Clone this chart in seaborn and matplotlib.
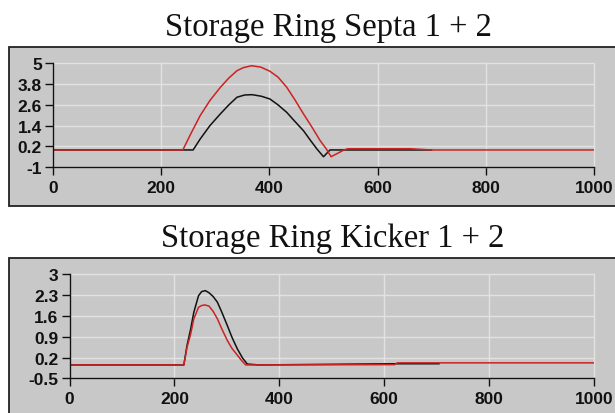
import numpy as np
import pandas as pd
import matplotlib
matplotlib.use("Agg")
import matplotlib.pyplot as plt
from matplotlib.patches import Rectangle
import seaborn as sns

sns.set_theme(style="white")
plt.rcParams.update({
    "font.family": ["Liberation Sans", "DejaVu Sans"],
    "axes.axisbelow": True,
})

# Storage Ring Septa 1 + 2
septa_red_x = [0, 240, 255, 272, 290, 309, 325, 340, 352, 367, 384, 401, 416, 432,
               447, 463, 479, 494, 505, 514, 538, 545, 660, 700, 1000]
septa_red_y = [0, 0, 0.95, 1.98, 2.85, 3.6, 4.15, 4.57, 4.75, 4.86, 4.78, 4.54, 4.2, 3.62,
               2.9, 2.08, 1.3, 0.53, 0.07, -0.39, 0.0, 0.07, 0.07, 0.0, 0.0]
septa_black_x = [0, 259, 272, 290, 309, 325, 340, 354, 368, 385, 401, 416, 432, 447,
                 463, 476, 488, 500, 512, 520, 660, 700]
septa_black_y = [0, 0, 0.63, 1.4, 2.07, 2.6, 3.04, 3.17, 3.19, 3.1, 2.94, 2.6, 2.17, 1.65,
                 1.11, 0.55, 0.05, -0.39, 0.0, 0.0, 0.0, 0.0]
septa_yticks = [-1, 0.2, 1.4, 2.6, 3.8, 5]
septa_yticklabels = ["-1", "0.2", "1.4", "2.6", "3.8", "5"]

# Storage Ring Kicker 1 + 2
kicker_red_x = [0, 218, 224, 231, 237, 246, 252, 258, 266, 274, 282, 291, 301, 310,
                320, 328, 336, 620, 625, 1000]
kicker_red_y = [-0.05, -0.05, 0.54, 0.99, 1.5, 1.89, 1.95, 1.97, 1.93, 1.75, 1.5, 1.14, 0.77, 0.5,
                0.28, 0.1, -0.05, -0.04, 0.02, 0.02]
kicker_black_x = [0, 218, 224, 231, 237, 246, 252, 259, 266, 274, 282, 291, 301, 310,
                  320, 330, 339, 361, 620, 705]
kicker_black_y = [-0.05, -0.05, 0.6, 1.16, 1.72, 2.28, 2.42, 2.45, 2.38, 2.25, 2.06, 1.7, 1.27, 0.87,
                  0.49, 0.18, -0.02, -0.05, -0.01, -0.01]
kicker_yticks = [-0.5, 0.2, 0.9, 1.6, 2.3, 3]
kicker_yticklabels = ["-0.5", "0.2", "0.9", "1.6", "2.3", "3"]

xticks = [0, 200, 400, 600, 800, 1000]

BG = "#c8c8c8"
RED = "#cc2222"
BLACK = "#111111"

fig = plt.figure(figsize=(6.15, 4.14), dpi=100)
fig.patch.set_facecolor("white")

# grey panels behind each plot
fig.patches.append(Rectangle((9 / 615, 0.501), 1.2, 0.383, transform=fig.transFigure,
                             facecolor=BG, edgecolor="#222222", linewidth=1.3, zorder=-10))
fig.patches.append(Rectangle((9 / 615, -0.2), 1.2, 0.5744, transform=fig.transFigure,
                             facecolor=BG, edgecolor="#222222", linewidth=1.3, zorder=-10))

ax1 = fig.add_axes([53 / 615, 0.5935, 541 / 615, 0.2512])
ax2 = fig.add_axes([69.5 / 615, 0.0838, 524.5 / 615, 0.2512])

panels = [
    (ax1, septa_black_x, septa_black_y, septa_red_x, septa_red_y, (-1, 5), septa_yticks, septa_yticklabels),
    (ax2, kicker_black_x, kicker_black_y, kicker_red_x, kicker_red_y, (-0.5, 3), kicker_yticks, kicker_yticklabels),
]

for ax, bx, by, rx, ry, ylim, yt, ytl in panels:
    ax.set_facecolor(BG)
    ax.set_zorder(1)
    sns.lineplot(x=bx, y=by, ax=ax, color=BLACK, linewidth=1.1, estimator=None, sort=False)
    sns.lineplot(x=rx, y=ry, ax=ax, color=RED, linewidth=1.1, estimator=None, sort=False)
    ax.set_xlim(0, 1000)
    ax.set_ylim(*ylim)
    ax.set_xticks(xticks)
    ax.set_xticklabels([str(t) for t in xticks])
    ax.set_yticks(yt)
    ax.set_yticklabels(ytl)
    ax.grid(True, color="#e2e2e2", linewidth=1.0)
    for gl in ax.get_xgridlines() + ax.get_ygridlines():
        gl.set_clip_on(False)
    for side in ["top", "right"]:
        ax.spines[side].set_visible(False)
    for side in ["left", "bottom"]:
        ax.spines[side].set_color("#111111")
        ax.spines[side].set_linewidth(1.0)
    ax.tick_params(axis="both", direction="out", length=6, width=1.0, color="#111111",
                   labelsize=12.5, labelcolor="#111111", bottom=True, left=True)
    ax.tick_params(axis="x", pad=3)
    ax.tick_params(axis="y", pad=2)
    for lab in ax.get_xticklabels() + ax.get_yticklabels():
        lab.set_fontweight("bold")
    ax.set_xlabel("")
    ax.set_ylabel("")

fig.text(328 / 615, 0.913, "Storage Ring Septa 1 + 2", ha="center", va="baseline",
         family=["Liberation Serif", "DejaVu Serif"], fontsize=23.5, color="#111111")
fig.text(333 / 615, 0.403, "Storage Ring Kicker 1 + 2", ha="center", va="baseline",
         family=["Liberation Serif", "DejaVu Serif"], fontsize=23.5, color="#111111")

fig.savefig("out.png", dpi=100)
